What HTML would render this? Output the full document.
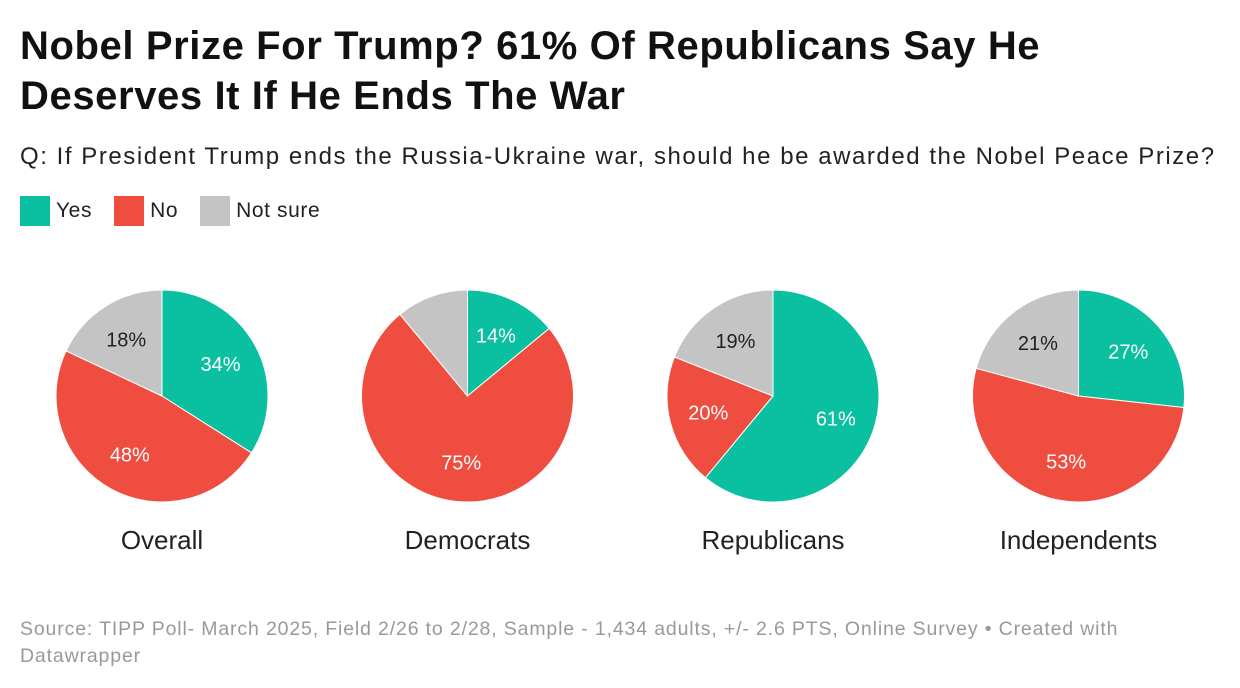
<!DOCTYPE html>
<html><head><meta charset="utf-8">
<style>
body{margin:0;width:1240px;height:688px;background:#fff;font-family:"Liberation Sans",sans-serif;color:#222;position:relative;overflow:hidden}
.t{position:absolute;left:20px;top:21px;font-size:40px;font-weight:bold;line-height:50px;color:#111;letter-spacing:0.6px;white-space:nowrap}
.s{position:absolute;left:20px;top:143px;font-size:24px;color:#222;white-space:nowrap;letter-spacing:1.55px}
.lg{position:absolute;top:196px;left:20px;display:flex;font-size:21px;align-items:center;letter-spacing:0.6px}
.lg span.b{display:inline-block;width:30px;height:30px;margin-right:6px}
.lg div{display:flex;align-items:center;margin-right:22px}
.src{position:absolute;left:20px;top:616px;font-size:19.5px;color:#999;line-height:27px;width:1120px;letter-spacing:0.85px}
svg{position:absolute;left:0;top:0}
</style></head><body>
<div class="t">Nobel Prize For Trump? 61% Of Republicans Say He<br>Deserves It If He Ends The War</div>
<div class="s">Q: If President Trump ends the Russia-Ukraine war, should he be awarded the Nobel Peace Prize?</div>
<div class="lg">
<div><span class="b" style="background:#0bbfa1"></span>Yes</div>
<div><span class="b" style="background:#ee4d3f"></span>No</div>
<div><span class="b" style="background:#c4c4c4"></span>Not sure</div>
</div>
<svg id="c" width="1240" height="688"></svg>
<div class="src">Source: TIPP Poll- March 2025, Field 2/26 to 2/28, Sample - 1,434 adults, +/- 2.6 PTS, Online Survey • Created with Datawrapper</div>
<script>
const groups=["Overall","Democrats","Republicans","Independents"];
const yesVals=[34,14,61,27];
const noVals=[48,75,20,53];
const notSureVals=[18,11,19,21];
const colors=["#0bbfa1","#ee4d3f","#c4c4c4"];
const names=["yes","no","not-sure"];
const svg=document.getElementById('c');
const NS="http://www.w3.org/2000/svg";
const cx0=162,dx=305.5,cy=396,R=106;
groups.forEach((g,i)=>{
  const cx=cx0+i*dx;
  const vals=[yesVals[i],noVals[i],notSureVals[i]];
  const tot=vals.reduce((a,b)=>a+b,0);
  let a=0;
  vals.forEach((v,j)=>{
    const a0=a/tot*2*Math.PI,a1=(a+v)/tot*2*Math.PI;a+=v;
    const x0=cx+R*Math.sin(a0),y0=cy-R*Math.cos(a0),x1=cx+R*Math.sin(a1),y1=cy-R*Math.cos(a1);
    const p=document.createElementNS(NS,'path');
    p.setAttribute('d',`M${cx},${cy}L${x0},${y0}A${R},${R} 0 ${a1-a0>Math.PI?1:0} 1 ${x1},${y1}Z`);
    p.setAttribute('fill',colors[j]);p.setAttribute('stroke','#fff');p.setAttribute('stroke-width','1');
    
    
    svg.appendChild(p);
    if(v>=12){
      const am=(a0+a1)/2,k=0.63;
      const t=document.createElementNS(NS,'text');
      t.setAttribute('x',cx+R*k*Math.sin(am));t.setAttribute('y',cy-R*k*Math.cos(am)+7);
      t.setAttribute('text-anchor','middle');t.setAttribute('font-size','20');
      t.setAttribute('fill',j==2?'#222':'#fff');
      t.setAttribute('font-family','Liberation Sans, sans-serif');
      t.textContent=v+'%';
      
      
      svg.appendChild(t);
    }
  });
  const lt=document.createElementNS(NS,'text');
  lt.setAttribute('x',cx);lt.setAttribute('y',549);lt.setAttribute('text-anchor','middle');
  lt.setAttribute('font-size','26');lt.setAttribute('fill','#222');
  lt.setAttribute('font-family','Liberation Sans, sans-serif');
  lt.textContent=g;
  
  
  svg.appendChild(lt);
});
</script>
</body></html>
